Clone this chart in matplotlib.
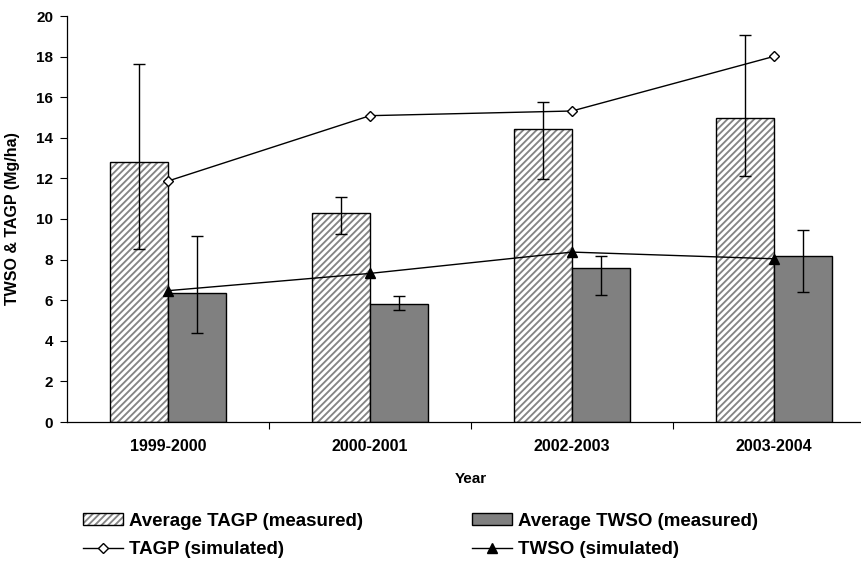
import numpy as np
import matplotlib.pyplot as plt
from matplotlib.patches import Patch

plt.rcParams['font.family'] = ['Liberation Sans', 'DejaVu Sans']
plt.rcParams['font.weight'] = 'bold'
plt.rcParams['hatch.linewidth'] = 1.35

years = ['1999-2000', '2000-2001', '2002-2003', '2003-2004']

tagp_meas = [12.82, 10.28, 14.45, 14.96]
tagp_err_lo = [4.30, 1.03, 2.49, 2.84]
tagp_err_hi = [4.84, 0.80, 1.31, 4.09]

twso_meas = [6.34, 5.83, 7.59, 8.16]
twso_err_lo = [1.97, 0.31, 1.32, 1.76]
twso_err_hi = [2.84, 0.38, 0.57, 1.31]

tagp_sim = [11.87, 15.09, 15.32, 18.01]
twso_sim = [6.47, 7.32, 8.37, 8.04]

x = np.arange(len(years))
w = 0.285
stripe = '#858585'

fig = plt.figure(figsize=(8.62, 5.62), dpi=100)
ax = fig.add_axes([67 / 862, 140 / 562, 808 / 862, 406 / 562])

# hatched bar: grey stripes first, then a black outline on top
ax.bar(x - w / 2, tagp_meas, w, color='white', edgecolor=stripe, linewidth=0, hatch='/////')
ax.bar(x - w / 2, tagp_meas, w, fill=False, edgecolor='black', linewidth=1.0)
gb = ax.bar(x + w / 2, twso_meas, w, color='#808080', edgecolor='black', linewidth=1.0)

ax.errorbar(x - w / 2, tagp_meas, yerr=[tagp_err_lo, tagp_err_hi], fmt='none',
            ecolor='black', elinewidth=1.0, capsize=4, capthick=1.0)
ax.errorbar(x + w / 2, twso_meas, yerr=[twso_err_lo, twso_err_hi], fmt='none',
            ecolor='black', elinewidth=1.0, capsize=4, capthick=1.0)

l1, = ax.plot(x, tagp_sim, color='black', linewidth=1.0, marker='D', markersize=5,
              markerfacecolor='white', markeredgecolor='black', markeredgewidth=1.0)
l2, = ax.plot(x, twso_sim, color='black', linewidth=1.0, marker='^', markersize=7,
              markerfacecolor='black', markeredgecolor='black')

ax.set_xlim(-0.5, 3.5)
ax.set_ylim(0, 20)
ax.set_yticks(np.arange(0, 21, 2))
ax.set_xticks(x)
ax.set_xticklabels(years, fontsize=11.5, fontweight='bold')
ax.set_xticks([0.5, 1.5, 2.5], minor=True)
ax.tick_params(axis='x', which='major', length=0, pad=12)
ax.tick_params(axis='x', which='minor', length=5, direction='out', width=0.8)
ax.tick_params(axis='y', length=5, width=0.8, labelsize=11, pad=5)
for lab in ax.get_yticklabels():
    lab.set_fontweight('bold')

ax.spines['top'].set_visible(False)
ax.spines['right'].set_visible(False)
ax.spines['left'].set_linewidth(0.9)
ax.spines['bottom'].set_linewidth(0.9)

ax.set_ylabel('TWSO & TAGP (Mg/ha)', fontsize=11.5, fontweight='bold')
ax.yaxis.set_label_coords(-0.058, 0.5)
ax.set_xlabel('Year', fontsize=11, fontweight='bold', labelpad=13)

# legend handle for the hatched bar: grey stripes plus black outline
tagp_hatch = Patch(facecolor='white', edgecolor=stripe, hatch='/////', linewidth=0)
tagp_edge = Patch(fill=False, edgecolor='black', linewidth=1.0)

fig.legend([(tagp_hatch, tagp_edge), l1, gb, l2],
           ['Average TAGP (measured)', 'TAGP (simulated)',
            'Average TWSO (measured)', 'TWSO (simulated)'],
           ncol=2, loc='upper left', bbox_to_anchor=(83 / 862, 49 / 562), frameon=False,
           prop={'family': 'Liberation Sans', 'weight': 'bold', 'size': 13.5},
           handlelength=2.15, handleheight=0.6, handletextpad=0.3,
           columnspacing=5.8, labelspacing=0.6, borderpad=0, borderaxespad=0)

fig.savefig('out.png', dpi=100)
